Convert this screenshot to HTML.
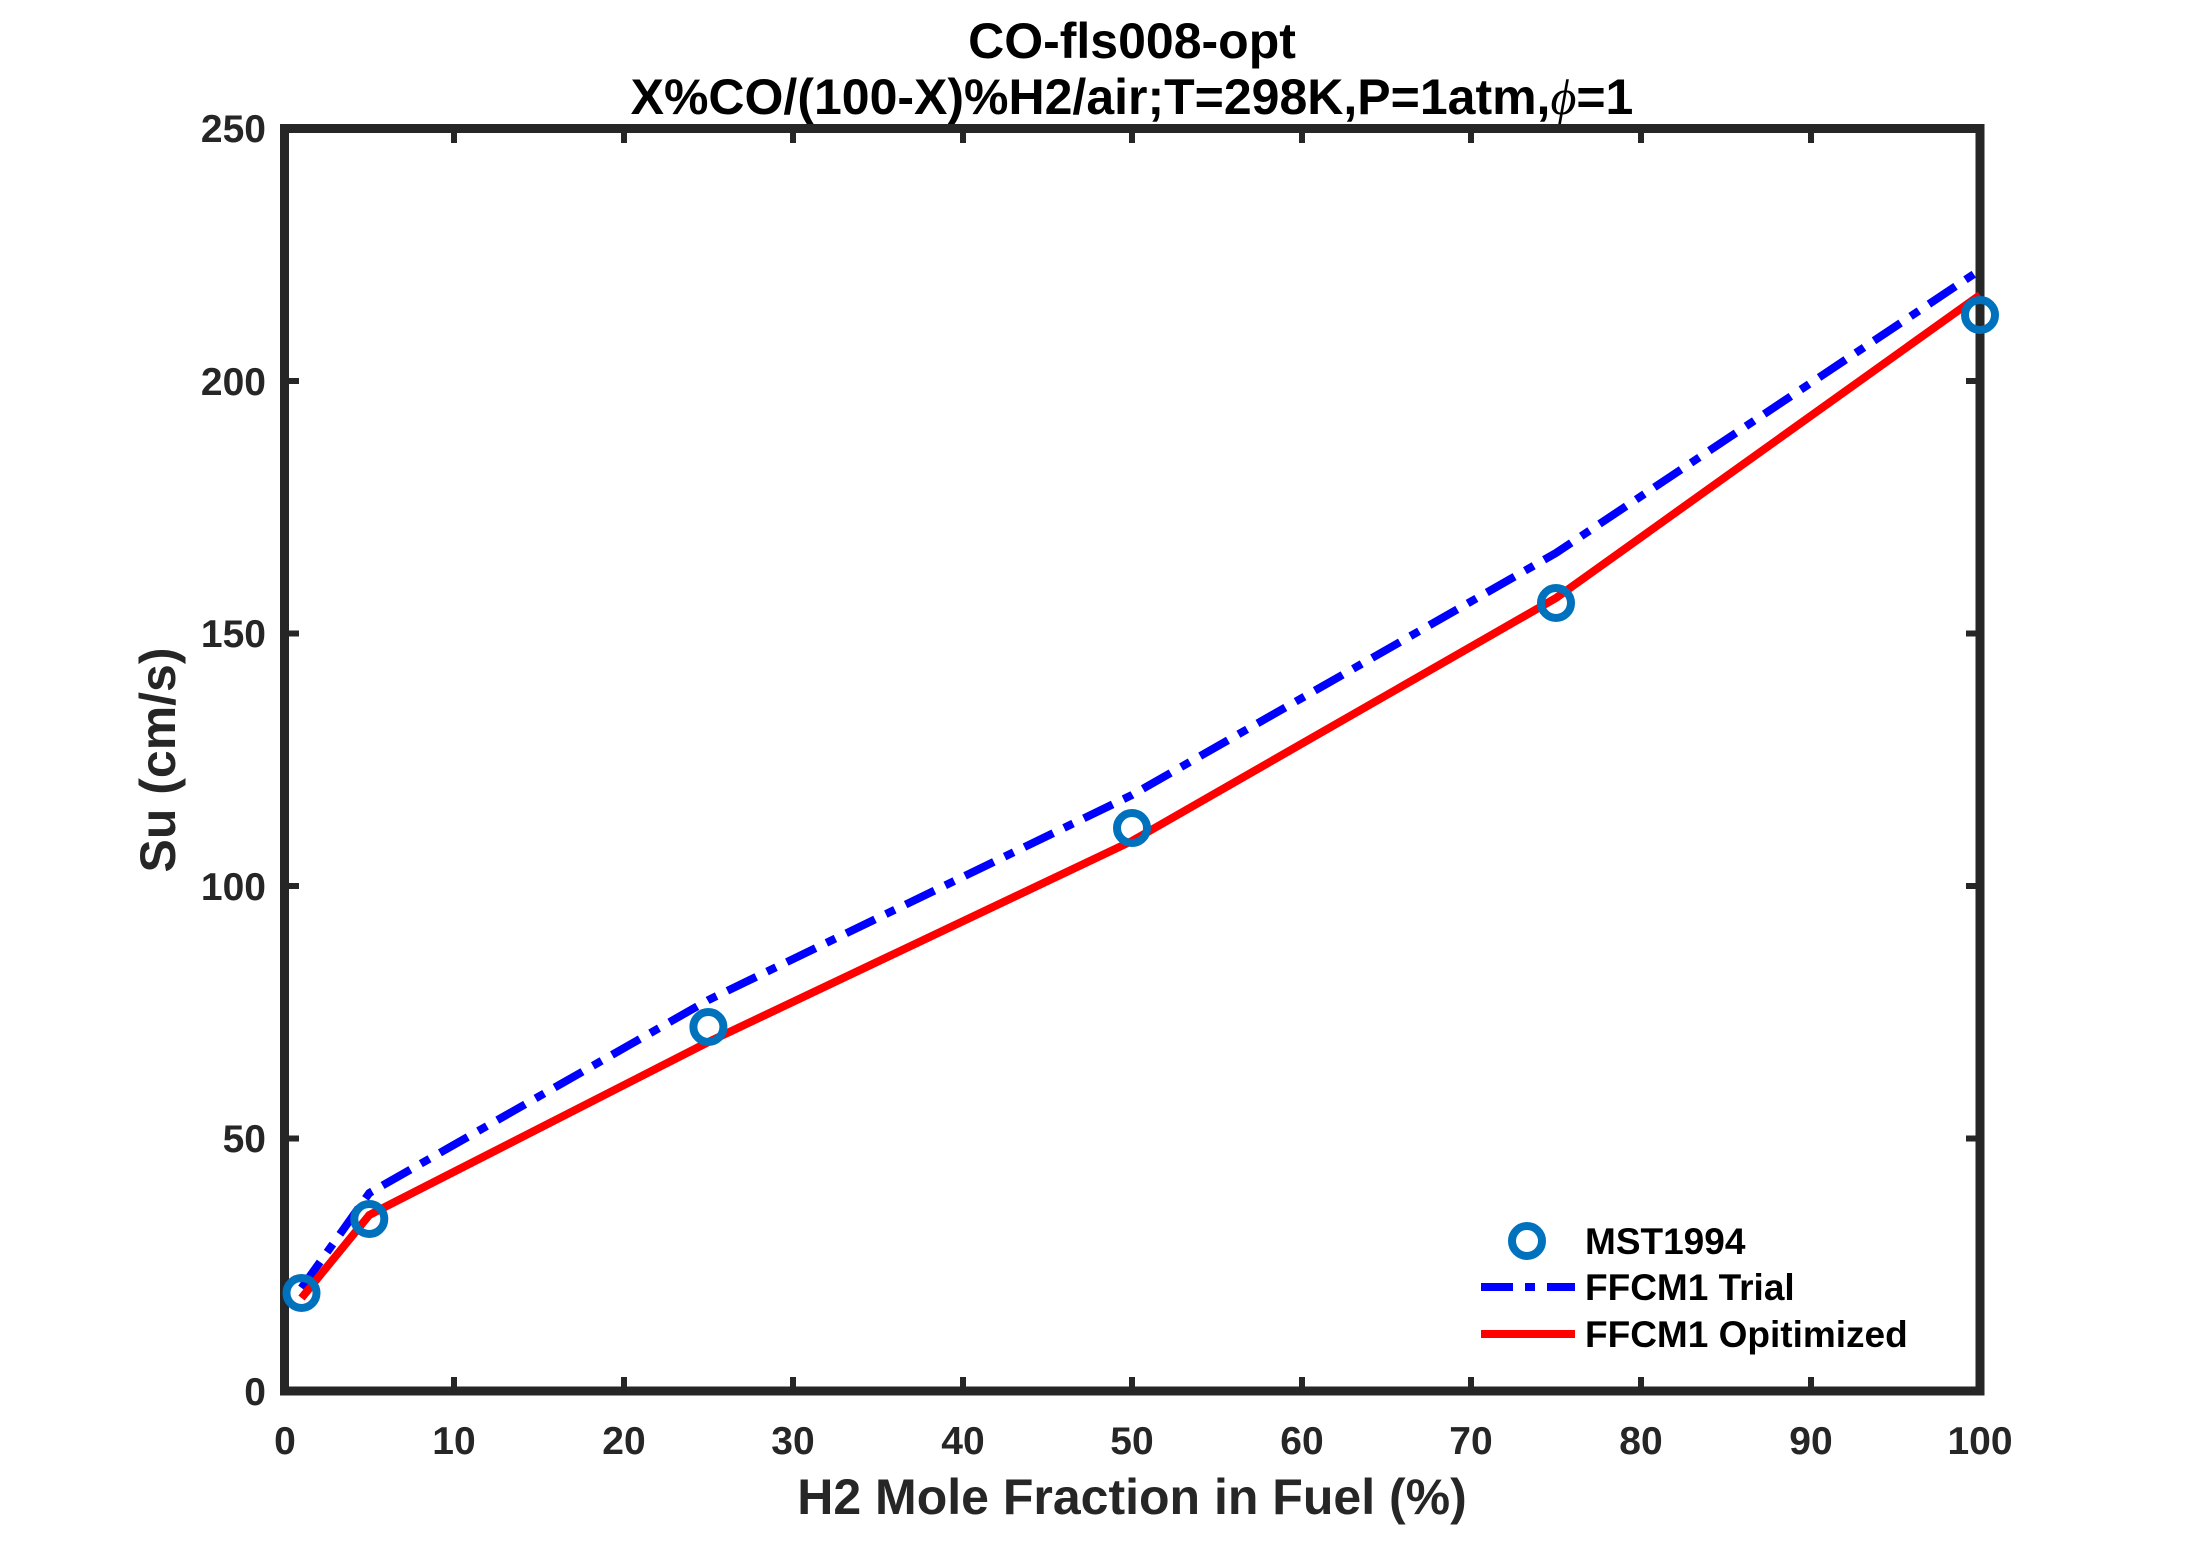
<!DOCTYPE html>
<html><head><meta charset="utf-8"><style>
html,body{margin:0;padding:0;background:#fff;}
svg text{font-family:"Liberation Sans",Arial,sans-serif;font-weight:bold;fill:#262626;}
</style></head><body>
<svg width="2187" height="1563" viewBox="0 0 2187 1563" xmlns="http://www.w3.org/2000/svg">
<rect width="2187" height="1563" fill="#fff"/>
<!-- title -->
<text x="1132" y="58" font-size="50" text-anchor="middle" style="fill:#000">CO-fls008-opt</text>
<text x="1132" y="114" font-size="50" text-anchor="middle" style="fill:#000">X%CO/(100-X)%H2/air;T=298K,P=1atm,<tspan font-family="Liberation Serif" font-style="italic" font-weight="normal">ϕ</tspan>=1</text>
<!-- ticks -->
<g stroke="#262626" stroke-width="6">
<line x1="454" y1="1391" x2="454" y2="1377"/><line x1="624" y1="1391" x2="624" y2="1377"/>
<line x1="793" y1="1391" x2="793" y2="1377"/><line x1="963" y1="1391" x2="963" y2="1377"/>
<line x1="1132" y1="1391" x2="1132" y2="1377"/><line x1="1302" y1="1391" x2="1302" y2="1377"/>
<line x1="1471" y1="1391" x2="1471" y2="1377"/><line x1="1641" y1="1391" x2="1641" y2="1377"/>
<line x1="1811" y1="1391" x2="1811" y2="1377"/>
<line x1="454" y1="128.5" x2="454" y2="143"/><line x1="624" y1="128.5" x2="624" y2="143"/>
<line x1="793" y1="128.5" x2="793" y2="143"/><line x1="963" y1="128.5" x2="963" y2="143"/>
<line x1="1132" y1="128.5" x2="1132" y2="143"/><line x1="1302" y1="128.5" x2="1302" y2="143"/>
<line x1="1471" y1="128.5" x2="1471" y2="143"/><line x1="1641" y1="128.5" x2="1641" y2="143"/>
<line x1="1811" y1="128.5" x2="1811" y2="143"/>
<line x1="284.5" y1="1138.5" x2="299" y2="1138.5"/><line x1="284.5" y1="886" x2="299" y2="886"/>
<line x1="284.5" y1="633.5" x2="299" y2="633.5"/><line x1="284.5" y1="381" x2="299" y2="381"/>
<line x1="1980" y1="1138.5" x2="1966" y2="1138.5"/><line x1="1980" y1="886" x2="1966" y2="886"/>
<line x1="1980" y1="633.5" x2="1966" y2="633.5"/><line x1="1980" y1="381" x2="1966" y2="381"/>
</g>
<rect x="284.5" y="128.5" width="1695.5" height="1262.5" fill="none" stroke="#262626" stroke-width="9"/>
<!-- tick labels -->
<g font-size="39" text-anchor="middle">
<text x="285" y="1454">0</text><text x="454" y="1454">10</text><text x="624" y="1454">20</text>
<text x="793" y="1454">30</text><text x="963" y="1454">40</text><text x="1132" y="1454">50</text>
<text x="1302" y="1454">60</text><text x="1471" y="1454">70</text><text x="1641" y="1454">80</text>
<text x="1811" y="1454">90</text><text x="1980" y="1454">100</text>
</g>
<g font-size="39" text-anchor="end">
<text x="266" y="1405">0</text><text x="266" y="1152">50</text><text x="266" y="900">100</text>
<text x="266" y="647">150</text><text x="266" y="395">200</text><text x="266" y="142">250</text>
</g>
<text x="1132" y="1514" font-size="50" text-anchor="middle">H2 Mole Fraction in Fuel (%)</text>
<text transform="translate(175,760) rotate(-90)" font-size="50" text-anchor="middle">Su (cm/s)</text>
<!-- series -->
<polyline points="301.5,1288 369.3,1193 708.4,1000 1132,795 1556,553 1980,270" fill="none" stroke="#0000ff" stroke-width="8" stroke-dasharray="32,12,10,12"/>
<polyline points="301.5,1298 369.3,1215 708.4,1042 1132,841 1556,598 1980,295" fill="none" stroke="#ff0000" stroke-width="8"/>
<g fill="none" stroke="#0072bd" stroke-width="8">
<circle cx="301.5" cy="1293" r="15"/><circle cx="369.3" cy="1219" r="15"/>
<circle cx="708.4" cy="1027" r="15"/><circle cx="1132" cy="828" r="15"/>
<circle cx="1556" cy="603" r="15"/><circle cx="1980" cy="315" r="15"/>
</g>
<!-- legend -->
<circle cx="1527" cy="1241" r="15" fill="none" stroke="#0072bd" stroke-width="8"/>
<line x1="1481" y1="1287" x2="1575" y2="1287" stroke="#0000ff" stroke-width="8" stroke-dasharray="32,12,10,12"/>
<line x1="1481" y1="1334" x2="1575" y2="1334" stroke="#ff0000" stroke-width="8"/>
<g font-size="37">
<text x="1585" y="1254" style="fill:#000">MST1994</text>
<text x="1585" y="1300" style="fill:#000">FFCM1 Trial</text>
<text x="1585" y="1347" style="fill:#000">FFCM1 Opitimized</text>
</g>
</svg>
</body></html>
